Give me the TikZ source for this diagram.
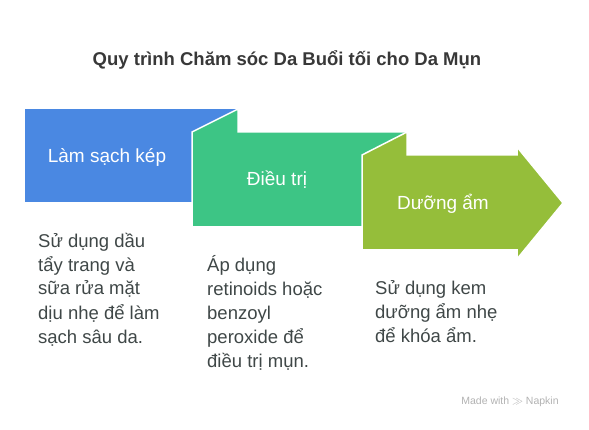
\documentclass[tikz,border=0pt]{standalone}
\usepackage{fontspec}
\setmainfont{Liberation Sans}
\usepackage{xcolor}
\definecolor{BlueStep}{HTML}{4A88E2}
\definecolor{GreenStep}{HTML}{3DC585}
\definecolor{OliveStep}{HTML}{95BE3A}
\definecolor{BodyGray}{HTML}{3F4747}
\definecolor{TitleGray}{HTML}{383838}
\tikzset{
	steptab/.style={draw=white, line width=1.5pt, line join=miter},
	steplabel/.style={text=white, font=\fontsize{19}{22}\selectfont, inner sep=0pt},
	stepdesc/.style={text=BodyGray, font=\fontsize{18.5}{24}\selectfont, align=left, anchor=base west, inner sep=0pt},
}

\begin{document}
\begin{tikzpicture}[x=1pt, y=-1pt]
	\useasboundingbox (0,0) rectangle (589,430);
	% title
	\node (title) at (287,60)[text=TitleGray, font=\bfseries\fontsize{18.5}{22}\selectfont]{Quy trình Chăm sóc Da Buổi tối cho Da Mụn};
	% three steps
	\fill[BlueStep] (25,109) rectangle (238,202);
	\filldraw[GreenStep, steptab] (192,132) -- (238,109) -- (238,132) -- (407,132) -- (407,227) -- (192,227) -- cycle;
	\filldraw[OliveStep, steptab] (362,155) -- (407,132) -- (407,155) -- (517,155) -- (517,147) -- (563,203) -- (517,259) -- (517,250) -- (362,250) -- cycle;
	\node (s1) at (107,157)[steplabel]{Làm sạch kép};
	\node (s2) at (277,180)[steplabel]{Điều trị};
	\node (s3) at (443,204)[steplabel]{Dưỡng ẩm};
	% descriptions (base = last line)
	\node (d1) at (38,343)[stepdesc]{Sử dụng dầu\\tẩy trang và\\sữa rửa mặt\\dịu nhẹ để làm\\sạch sâu da.};
	\node (d2) at (207,367)[stepdesc]{Áp dụng\\retinoids hoặc\\benzoyl\\peroxide để\\điều trị mụn.};
	\node (d3) at (375,342)[stepdesc]{Sử dụng kem\\dưỡng ẩm nhẹ\\để khóa ẩm.};
	% watermark
	\node (mark) at (510,402)[text=gray!60, font=\fontsize{10.5}{12}\selectfont]{Made with $\gg$ Napkin};
\end{tikzpicture}
\end{document}
